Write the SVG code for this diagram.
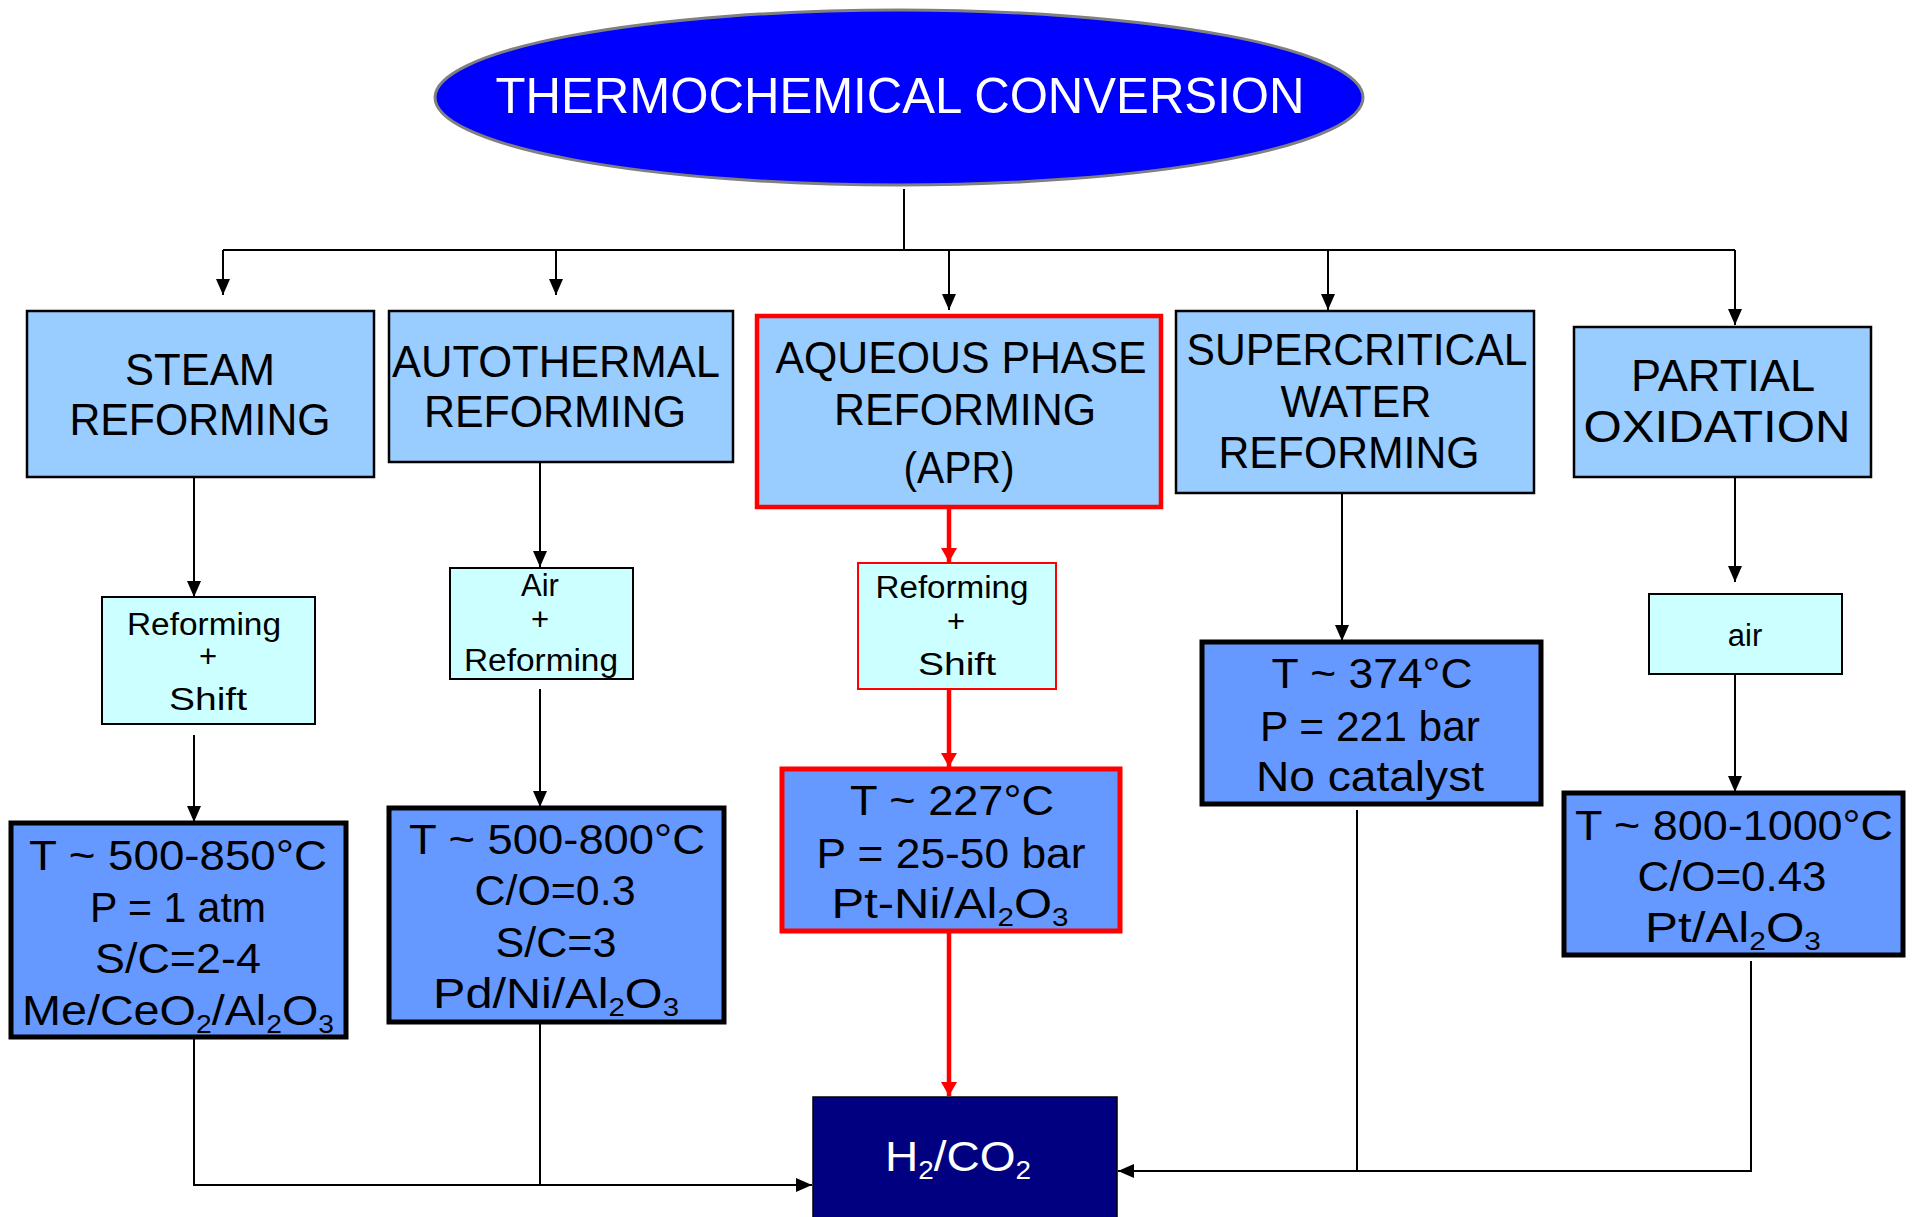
<svg xmlns="http://www.w3.org/2000/svg" width="1912" height="1217" viewBox="0 0 1912 1217">
<defs>
<style>
text{font-family:"Liberation Sans",Arial,sans-serif;text-anchor:middle;fill:#000}
.t{font-size:50px;fill:#fff}
.h{font-size:44px}
.d{font-size:43px}
.s{font-size:31px}
.w{fill:#fff}
.sub{font-size:26px}
.main{fill:#99CCFF;stroke:#000;stroke-width:2.5}
.step{fill:#CCFFFF;stroke:#000;stroke-width:2}
.cond{fill:#6699FF;stroke:#000;stroke-width:5}
.red{stroke:#FF0000}
.c{fill:none;stroke:#000;stroke-width:2}
.cr{fill:none;stroke:#FF0000;stroke-width:4.5}
</style>
<marker id="ab" markerUnits="userSpaceOnUse" markerWidth="16" markerHeight="14" refX="16" refY="7" orient="auto"><path d="M0,0 L16,7 L0,14 Z" fill="#000"/></marker>
<marker id="ar" markerUnits="userSpaceOnUse" markerWidth="14" markerHeight="16" refX="14" refY="8" orient="auto"><path d="M0,0 L14,8 L0,16 Z" fill="#FF0000"/></marker>
</defs>
<rect width="1912" height="1217" fill="#fff"/>

<g id="connectors">
<path class="c" d="M904,189 V250"/>
<path class="c" d="M223,250 H1735"/>
<path class="c" d="M223,250 V295" marker-end="url(#ab)"/>
<path class="c" d="M556,250 V295" marker-end="url(#ab)"/>
<path class="c" d="M949,250 V310" marker-end="url(#ab)"/>
<path class="c" d="M1328,250 V310" marker-end="url(#ab)"/>
<path class="c" d="M1735,250 V325" marker-end="url(#ab)"/>
<path class="c" d="M194,477 V597" marker-end="url(#ab)"/>
<path class="c" d="M194,735 V822" marker-end="url(#ab)"/>
<path class="c" d="M194,1038 V1185 H812" marker-end="url(#ab)"/>
<path class="c" d="M540,462 V567" marker-end="url(#ab)"/>
<path class="c" d="M540,689 V807" marker-end="url(#ab)"/>
<path class="c" d="M540,1022 V1185"/>
<path class="cr" d="M949,507 V562" marker-end="url(#ar)"/>
<path class="cr" d="M949,689 V767" marker-end="url(#ar)"/>
<path class="cr" d="M949,932 V1096" marker-end="url(#ar)"/>
<path class="c" d="M1342,493 V641" marker-end="url(#ab)"/>
<path class="c" d="M1357,810 V1171"/>
<path class="c" d="M1735,477 V582" marker-end="url(#ab)"/>
<path class="c" d="M1735,674 V792" marker-end="url(#ab)"/>
<path class="c" d="M1751,961 V1171 H1118" marker-end="url(#ab)"/>
</g>

<g id="thermochemical">
<ellipse cx="899" cy="97.5" rx="464" ry="87.5" fill="#0000FF" stroke="#808080" stroke-width="3"/>
<text class="t" x="900" y="113" textLength="809" lengthAdjust="spacingAndGlyphs">THERMOCHEMICAL CONVERSION</text>
</g>

<g id="steam">
<rect class="main" x="27" y="311" width="347" height="166"/>
<text class="h" x="200" y="385" textLength="150" lengthAdjust="spacingAndGlyphs">STEAM</text>
<text class="h" x="200" y="435" textLength="261" lengthAdjust="spacingAndGlyphs">REFORMING</text>
</g>
<g id="autothermal">
<rect class="main" x="389" y="311" width="344" height="151"/>
<text class="h" x="556" y="377" textLength="328" lengthAdjust="spacingAndGlyphs">AUTOTHERMAL</text>
<text class="h" x="555" y="427" textLength="262" lengthAdjust="spacingAndGlyphs">REFORMING</text>
</g>
<g id="apr">
<rect class="main red" x="757" y="316" width="404" height="191" style="stroke-width:4.5"/>
<text class="h" x="961" y="373" textLength="371" lengthAdjust="spacingAndGlyphs">AQUEOUS PHASE</text>
<text class="h" x="965" y="425" textLength="262" lengthAdjust="spacingAndGlyphs">REFORMING</text>
<text class="h" x="959" y="483" textLength="111" lengthAdjust="spacingAndGlyphs">(APR)</text>
</g>
<g id="supercritical">
<rect class="main" x="1176" y="311" width="358" height="182"/>
<text class="h" x="1357" y="365" textLength="341" lengthAdjust="spacingAndGlyphs">SUPERCRITICAL</text>
<text class="h" x="1356" y="417" textLength="151" lengthAdjust="spacingAndGlyphs">WATER</text>
<text class="h" x="1349" y="468" textLength="261" lengthAdjust="spacingAndGlyphs">REFORMING</text>
</g>
<g id="partial">
<rect class="main" x="1574" y="327" width="297" height="150"/>
<text class="h" x="1723" y="391" textLength="184" lengthAdjust="spacingAndGlyphs">PARTIAL</text>
<text class="h" x="1717" y="442" textLength="267" lengthAdjust="spacingAndGlyphs">OXIDATION</text>
</g>

<g id="steam-step">
<rect class="step" x="102" y="597" width="213" height="127"/>
<text class="s" x="204" y="635" textLength="154" lengthAdjust="spacingAndGlyphs">Reforming</text>
<text class="s" x="208" y="667">+</text>
<text class="s" x="208" y="710" textLength="78" lengthAdjust="spacingAndGlyphs">Shift</text>
</g>
<g id="auto-step">
<rect class="step" x="450" y="568" width="183" height="111"/>
<text class="s" x="540" y="596">Air</text>
<text class="s" x="540" y="630">+</text>
<text class="s" x="541" y="671" textLength="154" lengthAdjust="spacingAndGlyphs">Reforming</text>
</g>
<g id="apr-step">
<rect class="step red" x="858" y="563" width="198" height="126"/>
<text class="s" x="952" y="598" textLength="153" lengthAdjust="spacingAndGlyphs">Reforming</text>
<text class="s" x="956" y="632">+</text>
<text class="s" x="957" y="675" textLength="78" lengthAdjust="spacingAndGlyphs">Shift</text>
</g>
<g id="partial-step">
<rect class="step" x="1649" y="594" width="193" height="80"/>
<text class="s" x="1745" y="646">air</text>
</g>

<g id="steam-cond">
<rect class="cond" x="11" y="823" width="335" height="214"/>
<text class="d" x="178" y="870" textLength="298" lengthAdjust="spacingAndGlyphs">T ~ 500-850°C</text>
<text class="d" x="178" y="922" textLength="176" lengthAdjust="spacingAndGlyphs">P = 1 atm</text>
<text class="d" x="178" y="973" textLength="166" lengthAdjust="spacingAndGlyphs">S/C=2-4</text>
<text class="d" x="178" y="1025" textLength="312" lengthAdjust="spacingAndGlyphs">Me/CeO<tspan class="sub" dy="8">2</tspan><tspan dy="-8">/Al</tspan><tspan class="sub" dy="8">2</tspan><tspan dy="-8">O</tspan><tspan class="sub" dy="8">3</tspan></text>
</g>
<g id="auto-cond">
<rect class="cond" x="389" y="808" width="335" height="214"/>
<text class="d" x="557" y="854" textLength="296" lengthAdjust="spacingAndGlyphs">T ~ 500-800°C</text>
<text class="d" x="555" y="905" textLength="161" lengthAdjust="spacingAndGlyphs">C/O=0.3</text>
<text class="d" x="556" y="957" textLength="121" lengthAdjust="spacingAndGlyphs">S/C=3</text>
<text class="d" x="556" y="1008" textLength="246" lengthAdjust="spacingAndGlyphs">Pd/Ni/Al<tspan class="sub" dy="8">2</tspan><tspan dy="-8">O</tspan><tspan class="sub" dy="8">3</tspan></text>
</g>
<g id="apr-cond">
<rect class="cond red" x="782" y="769" width="338" height="162"/>
<text class="d" x="952" y="815" textLength="204" lengthAdjust="spacingAndGlyphs">T ~ 227°C</text>
<text class="d" x="951" y="868" textLength="269" lengthAdjust="spacingAndGlyphs">P = 25-50 bar</text>
<text class="d" x="950" y="918" textLength="237" lengthAdjust="spacingAndGlyphs">Pt-Ni/Al<tspan class="sub" dy="8">2</tspan><tspan dy="-8">O</tspan><tspan class="sub" dy="8">3</tspan></text>
</g>
<g id="scw-cond">
<rect class="cond" x="1202" y="642" width="339" height="162"/>
<text class="d" x="1372" y="688" textLength="201" lengthAdjust="spacingAndGlyphs">T ~ 374°C</text>
<text class="d" x="1370" y="741" textLength="220" lengthAdjust="spacingAndGlyphs">P = 221 bar</text>
<text class="d" x="1370" y="791" textLength="228" lengthAdjust="spacingAndGlyphs">No catalyst</text>
</g>
<g id="partial-cond">
<rect class="cond" x="1564" y="793" width="339" height="162"/>
<text class="d" x="1734" y="840" textLength="318" lengthAdjust="spacingAndGlyphs">T ~ 800-1000°C</text>
<text class="d" x="1732" y="891" textLength="189" lengthAdjust="spacingAndGlyphs">C/O=0.43</text>
<text class="d" x="1733" y="942" textLength="176" lengthAdjust="spacingAndGlyphs">Pt/Al<tspan class="sub" dy="8">2</tspan><tspan dy="-8">O</tspan><tspan class="sub" dy="8">3</tspan></text>
</g>

<g id="h2co2">
<rect x="813" y="1097" width="304" height="125" fill="#000080" stroke="#000" stroke-width="1.5"/>
<text class="d w" x="958" y="1171" textLength="146" lengthAdjust="spacingAndGlyphs">H<tspan class="sub" dy="8">2</tspan><tspan dy="-8">/CO</tspan><tspan class="sub" dy="8">2</tspan></text>
</g>
</svg>
